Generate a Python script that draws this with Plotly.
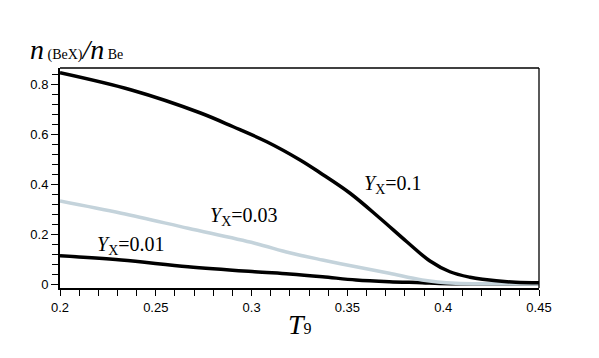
'''
    Fraction of Be bound in (BeX) versus T9 for three values of Y_X.
'''
import plotly.graph_objects as go

# Y_X = 0.1
t9_a = [0.2, 0.2373, 0.273, 0.2904, 0.3079, 0.3253, 0.3357, 0.3514, 0.367,
        0.381, 0.3931, 0.4035, 0.414, 0.4205, 0.4379, 0.45]
n_a = [0.845, 0.776, 0.685, 0.629, 0.569, 0.496, 0.445, 0.363, 0.263,
       0.169, 0.092, 0.049, 0.027, 0.019, 0.007, 0.005]

# Y_X = 0.03
t9_b = [0.2, 0.232, 0.2668, 0.3016, 0.3198, 0.337, 0.3545, 0.3719, 0.389,
        0.4066, 0.425, 0.45]
n_b = [0.332, 0.283, 0.223, 0.163, 0.125, 0.096, 0.069, 0.043, 0.016,
       0.003, 0.001, 0.0]

# Y_X = 0.01
t9_c = [0.2, 0.232, 0.2668, 0.3016, 0.3198, 0.337, 0.3545, 0.3719, 0.389,
        0.398, 0.42, 0.45]
n_c = [0.113, 0.096, 0.069, 0.049, 0.040, 0.029, 0.016, 0.009, 0.005,
       0.002, 0.001, 0.001]

x_ticks = [0.2, 0.25, 0.3, 0.35, 0.4, 0.45]
x_tick_labels = ['0.2', '0.25', '0.3', '0.35', '0.4', '0.45']
y_ticks = [0, 0.2, 0.4, 0.6, 0.8]
y_tick_labels = ['0', '0.2', '0.4', '0.6', '0.8']

SERIF = 'Liberation Serif'
SANS = 'Liberation Sans'

fig = go.Figure()
fig.add_trace(go.Scatter(x=t9_c, y=n_c, mode='lines', line_shape='spline',
                         line=dict(color='#000000', width=3.5)))
fig.add_trace(go.Scatter(x=t9_b, y=n_b, mode='lines', line_shape='spline',
                         line=dict(color='#c4d3db', width=3.5)))
fig.add_trace(go.Scatter(x=t9_a, y=n_a, mode='lines', line_shape='spline',
                         line=dict(color='#000000', width=3.5)))

labels = [
    (0.3576, 0.400, '<i>Y</i><sub>X</sub>=0.1'),
    (0.2772, 0.272, '<i>Y</i><sub>X</sub>=0.03'),
    (0.2183, 0.156, '<i>Y</i><sub>X</sub>=0.01'),
]
for lx, ly, txt in labels:
    fig.add_annotation(x=lx, y=ly, text=txt, showarrow=False,
                       xanchor='left', yanchor='middle',
                       font=dict(family=SERIF, size=20, color='#000000'))

# axis titles
fig.add_annotation(
    xref='paper', yref='paper', x=-0.067, y=1.082,
    text=('<i>n</i><span style="font-size:14px"> (BeX)</span>'
          '<i>/n</i><span style="font-size:14px"> Be</span>'),
    showarrow=False, xanchor='left', yanchor='middle',
    font=dict(family=SERIF, size=28, color='#000000'))
fig.add_annotation(
    xref='paper', yref='paper', x=0.501, y=-0.168,
    text='<i>T</i><span style="font-size:16px">9</span>',
    showarrow=False, xanchor='center', yanchor='middle',
    font=dict(family=SERIF, size=28, color='#000000'))

# thin top and right frame
fig.add_shape(type='line', xref='paper', yref='paper', x0=0, x1=1, y0=1, y1=1,
              line=dict(color='#000000', width=1.3))
fig.add_shape(type='line', xref='paper', yref='paper', x0=1, x1=1, y0=0, y1=1,
              line=dict(color='#000000', width=1.3))

fig.update_xaxes(
    range=[0.2, 0.45], tickvals=x_ticks, ticktext=x_tick_labels,
    showgrid=False, zeroline=False, showline=True, linecolor='#000000',
    linewidth=2, ticks='outside', ticklen=6, tickwidth=1.3,
    tickcolor='#000000',
    minor=dict(dtick=0.01, tick0=0.2, ticks='outside', ticklen=6,
               tickwidth=1.3, tickcolor='#000000', showgrid=False),
    tickfont=dict(family=SANS, size=13, color='#000000'))
fig.update_yaxes(
    range=[-0.016, 0.864], tickvals=y_ticks, ticktext=y_tick_labels,
    showgrid=False, zeroline=False, showline=True, linecolor='#000000',
    linewidth=2, ticks='outside', ticklen=7, tickwidth=1.3,
    tickcolor='#000000',
    minor=dict(dtick=0.04, tick0=0, ticks='outside', ticklen=6,
               tickwidth=1.3, tickcolor='#000000', showgrid=False),
    tickfont=dict(family=SANS, size=13, color='#000000'))

fig.update_layout(
    width=599, height=358,
    margin=dict(l=60, r=60, t=68, b=70, autoexpand=False),
    showlegend=False,
    plot_bgcolor='#ffffff',
    paper_bgcolor='#ffffff',
)

# the page's default body margin would shift the whole chart
fig.write_html('out.html', config={'displayModeBar': False},
               post_script="document.body.style.margin='0';"
                           "document.body.style.overflow='hidden';")
